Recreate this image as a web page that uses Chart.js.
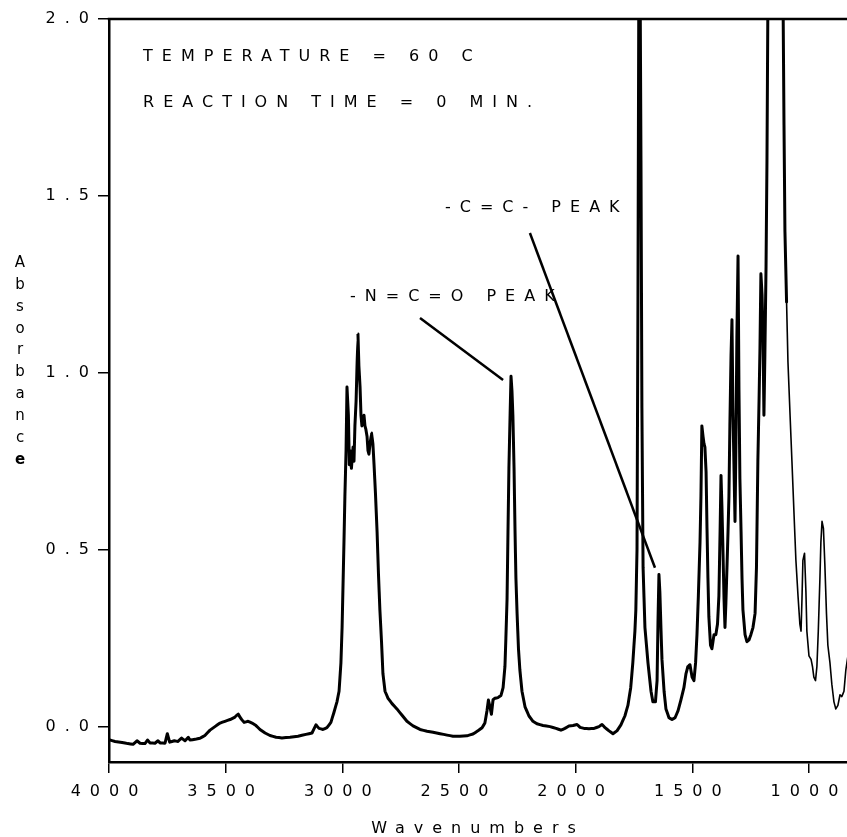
<!DOCTYPE html>
<html>
<head>
<meta charset="utf-8">
<script src="https://cdn.jsdelivr.net/npm/chart.js@4/dist/chart.umd.min.js"></script>
<style>
  html, body { margin: 0; padding: 0; background: #ffffff; }
  #wrap { width: 847px; height: 837px; }
</style>
</head>
<body>
<div id="wrap"><canvas id="c" width="847" height="837"></canvas></div>
<script>
// ---------- DATA ----------
const wavenumbers = [
  4000,3974,3944,3919,3897,3880,3867,3846,3835,3824,3803,3790,3781,3760,3750,3740,3720,3704,3690,3674,
  3660,3653,3631,3610,3589,3567,3546,3524,3503,3481,3460,3447,3434,3421,3404,3387,3370,3353,3331,3310,
  3284,3259,3224,3190,3156,3130,3113,3100,3083,3066,3049,3036,3023,3014,3006,3001,2997,2993,2989,2984,
  2980,2974,2970,2966,2961,2954,2950,2946,2941,2937,2933,2929,2924,2920,2916,2911,2907,2903,2899,2894,
  2890,2886,2881,2875,2869,2864,2858,2851,2845,2839,2832,2826,2817,2804,2787,2766,2744,2723,2697,2667,
  2637,2611,2581,2551,2526,2496,2466,2440,2419,2401,2389,2380,2374,2367,2361,2354,2346,2333,2320,2311,
  2303,2299,2294,2290,2286,2281,2277,2273,2269,2264,2260,2256,2251,2245,2239,2230,2217,2200,2183,2166,
  2140,2110,2084,2063,2046,2029,2011,1994,1981,1964,1943,1921,1900,1887,1874,1857,1840,1823,1806,1789,
  1776,1764,1755,1746,1742,1737,1733,1729,1724,1720,1716,1711,1703,1690,1677,1669,1658,1651,1647,1643,
  1639,1634,1630,1621,1613,1600,1587,1574,1561,1549,1536,1527,1519,1510,1501,1493,1486,1480,1474,1467,
  1463,1459,1454,1450,1446,1441,1437,1433,1429,1422,1416,1407,1399,1392,1386,1381,1377,1373,1369,1364,
  1360,1356,1351,1347,1343,1339,1334,1330,1326,1321,1317,1313,1309,1304,1300,1296,1291,1287,1283,1274,
  1266,1257,1249,1240,1231,1225,1219,1214,1210,1206,1201,1197,1193,1189,1184,1180,1176,1167,1146,1124,
  1111,1107,1103,1096,1090,1081,1073,1064,1056,1047,1039,1034,1030,1026,1019,1013,1009,1000,991,985,
  979,972,966,960,953,949,944,938,932,925,919,910,902,893,885,876,867,859,850,842,833
];
const absorbance = [
  -0.037,-0.042,-0.045,-0.048,-0.050,-0.040,-0.047,-0.048,-0.038,-0.046,-0.047,-0.040,-0.046,-0.047,-0.020,-0.044,-0.040,-0.042,-0.032,-0.040,
  -0.030,-0.038,-0.036,-0.033,-0.025,-0.010,0.000,0.010,0.015,0.020,0.027,0.036,0.022,0.012,0.015,0.010,0.003,-0.008,-0.018,-0.025,
  -0.030,-0.032,-0.030,-0.027,-0.022,-0.018,0.005,-0.005,-0.008,-0.003,0.012,0.040,0.070,0.100,0.180,0.280,0.400,0.520,0.650,0.780,
  0.960,0.880,0.740,0.780,0.730,0.790,0.750,0.850,0.920,1.020,1.110,1.020,0.960,0.880,0.850,0.860,0.880,0.850,0.840,0.820,
  0.780,0.770,0.800,0.830,0.800,0.740,0.660,0.550,0.430,0.330,0.240,0.150,0.100,0.080,0.065,0.050,0.032,0.015,0.002,-0.008,
  -0.013,-0.016,-0.020,-0.024,-0.027,-0.027,-0.026,-0.021,-0.012,-0.003,0.010,0.045,0.075,0.055,0.035,0.076,0.080,0.082,0.088,0.110,
  0.170,0.250,0.360,0.550,0.730,0.880,0.990,0.950,0.880,0.730,0.560,0.420,0.320,0.220,0.160,0.100,0.056,0.030,0.015,0.008,
  0.003,0.000,-0.005,-0.010,-0.005,0.002,0.003,0.006,-0.002,-0.005,-0.006,-0.005,0.000,0.006,-0.003,-0.012,-0.020,-0.012,0.005,0.030,
  0.060,0.110,0.180,0.270,0.330,0.500,1.200,2.150,2.150,1.600,0.900,0.450,0.280,0.180,0.100,0.070,0.070,0.130,0.300,0.430,
  0.380,0.270,0.190,0.100,0.050,0.025,0.020,0.025,0.045,0.075,0.110,0.150,0.170,0.175,0.140,0.130,0.180,0.260,0.370,0.520,
  0.650,0.850,0.820,0.800,0.790,0.720,0.560,0.420,0.310,0.230,0.220,0.260,0.260,0.290,0.370,0.550,0.710,0.620,0.510,0.360,
  0.280,0.350,0.460,0.550,0.650,0.850,1.050,1.150,0.900,0.720,0.580,0.800,1.100,1.330,0.950,0.700,0.550,0.420,0.330,0.260,
  0.240,0.245,0.260,0.280,0.320,0.450,0.750,0.920,1.070,1.280,1.220,1.100,0.880,1.050,1.300,1.600,2.050,2.300,2.400,2.300,
  2.050,1.700,1.400,1.200,1.030,0.880,0.750,0.600,0.470,0.370,0.290,0.270,0.360,0.470,0.490,0.380,0.270,0.200,0.190,0.170,
  0.140,0.130,0.170,0.270,0.420,0.520,0.580,0.560,0.460,0.320,0.230,0.180,0.120,0.070,0.050,0.060,0.090,0.085,0.100,0.160,0.200
];
const xTickValues = [1000, 1500, 2000, 2500, 3000, 3500, 4000];
const yTickValues = [0.0, 0.5, 1.0, 1.5, 2.0];
const xTitle = 'Wavenumbers';
const yTitle = 'Absorbance';
const noteLines = ['TEMPERATURE = 60 C', 'REACTION TIME = 0 MIN.'];
const peakLabels = ['-N=C=O PEAK', '-C=C- PEAK'];

// ---------- presentation ----------
const FONT = '"DejaVu Sans", "Liberation Sans", sans-serif';
const LETTER_SPACING = '9px';
const THIN_FROM = 1096;   // the trace is printed thinner below this wavenumber

const points = wavenumbers.map((w, i) => ({ x: w, y: absorbance[i] }));
const splitAt = wavenumbers.findIndex(w => w <= THIN_FROM);
const thickPart = points.slice(0, splitAt + 1);
const thinPart = points.slice(splitAt);

const annotationLayout = {
  notes: [
    { text: noteLines[0], x: 3854, y: 1.893 },
    { text: noteLines[1], x: 3854, y: 1.763 }
  ],
  labels: [
    { text: peakLabels[0], x: 2967, y: 1.215 },
    { text: peakLabels[1], x: 2560, y: 1.466 }
  ],
  leaders: [
    { from: [2667, 1.155], to: [2311, 0.980] },
    { from: [2196, 1.395], to: [1660, 0.449] }
  ]
};

const spacingPlugin = {
  id: 'spacing',
  beforeUpdate(chart) { chart.ctx.letterSpacing = LETTER_SPACING; },
  beforeLayout(chart) { chart.ctx.letterSpacing = LETTER_SPACING; },
  beforeDraw(chart) { chart.ctx.letterSpacing = LETTER_SPACING; }
};

const framePlugin = {
  id: 'frame',
  afterDraw(chart) {
    const { ctx, chartArea: { left, right, top } } = chart;
    ctx.save();
    ctx.strokeStyle = '#000';
    ctx.lineWidth = 2.5;
    ctx.beginPath();
    ctx.moveTo(left - 1.25, top);
    ctx.lineTo(right, top);
    ctx.stroke();
    ctx.restore();
  }
};

const annotationPlugin = {
  id: 'annotations',
  afterDatasetsDraw(chart) {
    const { ctx, scales: { x, y } } = chart;
    ctx.save();
    ctx.letterSpacing = LETTER_SPACING;
    ctx.fillStyle = '#000';
    ctx.font = '16px ' + FONT;
    ctx.textAlign = 'left';
    ctx.textBaseline = 'middle';
    [...annotationLayout.notes, ...annotationLayout.labels].forEach(t => {
      ctx.fillText(t.text, x.getPixelForValue(t.x), y.getPixelForValue(t.y));
    });
    ctx.strokeStyle = '#000';
    ctx.lineWidth = 2.5;
    ctx.lineCap = 'butt';
    annotationLayout.leaders.forEach(l => {
      ctx.beginPath();
      ctx.moveTo(x.getPixelForValue(l.from[0]), y.getPixelForValue(l.from[1]));
      ctx.lineTo(x.getPixelForValue(l.to[0]), y.getPixelForValue(l.to[1]));
      ctx.stroke();
    });
    ctx.restore();
  }
};

const yTitlePlugin = {
  id: 'yTitle',
  afterDraw(chart) {
    const { ctx, chartArea } = chart;
    ctx.save();
    ctx.letterSpacing = '0px';
    ctx.fillStyle = '#000';
    ctx.textAlign = 'center';
    ctx.textBaseline = 'middle';
    const letters = yTitle.split('');
    const cx = chartArea.left - 89;
    const y0 = chartArea.top + 244;
    const pitch = 21.9;
    letters.forEach((ch, i) => {
      ctx.font = (i === letters.length - 1 ? 'bold ' : '') + '15px ' + FONT;
      ctx.fillText(ch, cx, y0 + i * pitch);
    });
    ctx.restore();
  }
};

// a negligible tension keeps every point on its own straight path step
// (Chart.js's column-merging fast path is then not used)
const lineStyle = {
  borderColor: '#000',
  pointRadius: 0,
  tension: 0.0001,
  fill: false,
  borderJoinStyle: 'round',
  borderCapStyle: 'round'
};

new Chart(document.getElementById('c'), {
  type: 'line',
  data: {
    datasets: [
      Object.assign({ data: thickPart, borderWidth: 3 }, lineStyle),
      Object.assign({ data: thinPart, borderWidth: 1.6 }, lineStyle)
    ]
  },
  options: {
    responsive: false,
    animation: false,
    devicePixelRatio: 1,
    layout: { padding: { top: 19, right: 0, bottom: 0, left: 0 } },
    plugins: { legend: { display: false }, tooltip: { enabled: false } },
    scales: {
      x: {
        type: 'linear',
        reverse: true,
        min: 837,
        max: 4000,
        afterBuildTicks: s => { s.ticks = xTickValues.map(v => ({ value: v })); },
        afterFit: s => { s.height = 75; },
        ticks: {
          autoSkip: false, maxRotation: 0, color: '#000', padding: 9,
          font: { family: FONT, size: 16 },
          callback: v => String(v)
        },
        grid: { drawOnChartArea: false, drawTicks: true, tickLength: 11, color: '#000', lineWidth: 1.5 },
        border: { display: true, color: '#000', width: 2.5 },
        title: {
          display: true, text: xTitle, color: '#000',
          font: { family: FONT, size: 16, lineHeight: 1 },
          padding: { top: 0, bottom: 0 }
        }
      },
      y: {
        type: 'linear',
        min: -0.1,
        max: 2.0,
        afterBuildTicks: s => { s.ticks = yTickValues.map(v => ({ value: v })); },
        afterFit: s => { s.width = 109; },
        ticks: {
          color: '#000', padding: 0,
          font: { family: FONT, size: 16 },
          callback: v => Number(v).toFixed(1)
        },
        grid: { drawOnChartArea: false, drawTicks: true, tickLength: 11, color: '#000', lineWidth: 1.5 },
        border: { display: true, color: '#000', width: 2.5 }
      }
    }
  },
  plugins: [spacingPlugin, annotationPlugin, framePlugin, yTitlePlugin]
});
</script>
</body>
</html>
